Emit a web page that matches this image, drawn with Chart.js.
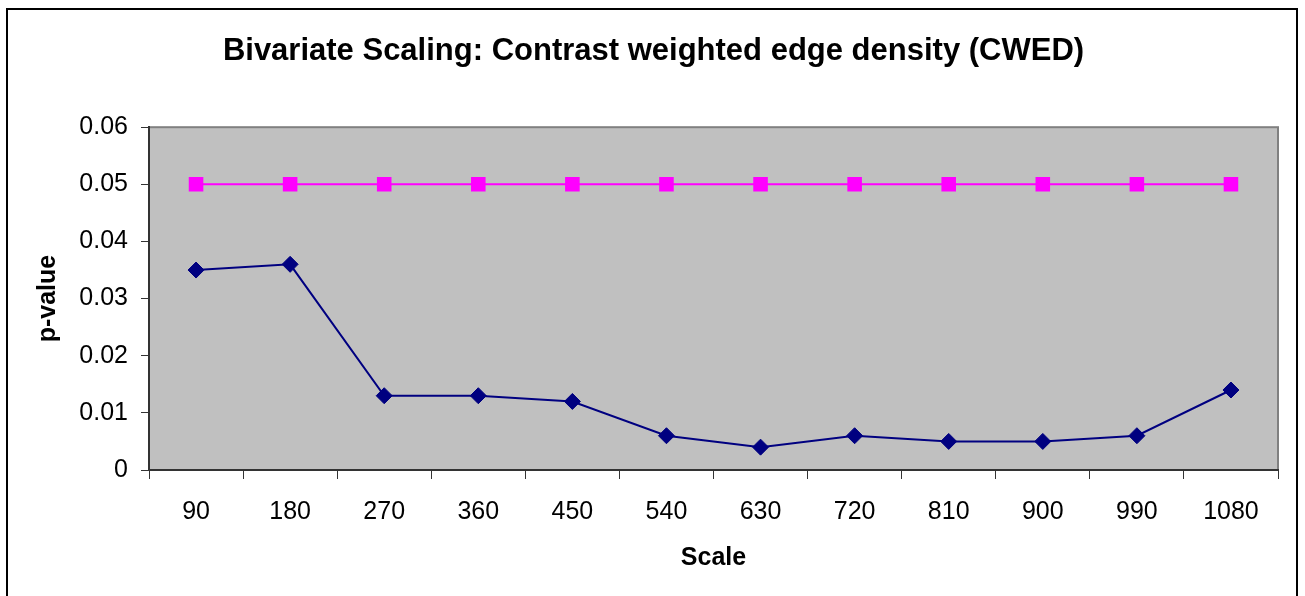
<!DOCTYPE html>
<html>
<head>
<meta charset="utf-8">
<script src="https://cdn.jsdelivr.net/npm/chart.js@4.4.1/dist/chart.umd.min.js"></script>
<style>
  html, body { margin: 0; padding: 0; background: #ffffff; }
  #wrap { width: 1305px; height: 596px; position: relative; }
</style>
</head>
<body>
<div id="wrap"><canvas id="chart" width="1305" height="596"></canvas></div>
<script>
// Scale values on the category axis
const scales = ['90', '180', '270', '360', '450', '540', '630', '720', '810', '900', '990', '1080'];
// p-values of the CWED bivariate test at each scale
const pValues = [0.035, 0.036, 0.013, 0.013, 0.012, 0.006, 0.004, 0.006, 0.005, 0.005, 0.006, 0.014];
// significance threshold
const threshold = [0.05, 0.05, 0.05, 0.05, 0.05, 0.05, 0.05, 0.05, 0.05, 0.05, 0.05, 0.05];
// y-axis tick labels
const yTicks = ['0', '0.01', '0.02', '0.03', '0.04', '0.05', '0.06'];

const FONT = '"Liberation Sans", Arial, sans-serif';

// grey plot background and frame, plus the outer chart border
const framePlugin = {
  id: 'frame',
  beforeDraw(chart) {
    const { ctx, chartArea: a } = chart;
    ctx.save();
    ctx.fillStyle = '#ffffff';
    ctx.fillRect(0, 0, chart.width, chart.height);
    ctx.fillStyle = '#c0c0c0';
    ctx.fillRect(a.left, a.top, a.right - a.left, a.bottom - a.top);
    ctx.strokeStyle = '#808080';
    ctx.lineWidth = 2;
    ctx.strokeRect(a.left, a.top, a.right - a.left, a.bottom - a.top);
    ctx.restore();
  },
  afterDraw(chart) {
    const { ctx } = chart;
    ctx.save();
    ctx.strokeStyle = '#000000';
    ctx.lineWidth = 2;
    ctx.strokeRect(7, 9, 1290, 620);
    ctx.restore();
  }
};

new Chart(document.getElementById('chart'), {
  type: 'line',
  data: {
    labels: scales,
    datasets: [
      {
        label: 'p-value',
        data: pValues,
        borderColor: '#000080',
        backgroundColor: '#000080',
        borderWidth: 2,
        pointStyle: 'rectRot',
        pointRadius: 8,
        pointBorderWidth: 1,
        tension: 0
      },
      {
        label: '0.05',
        data: threshold,
        borderColor: '#ff00ff',
        backgroundColor: '#ff00ff',
        borderWidth: 2,
        pointStyle: 'rect',
        pointRadius: 10.3,
        pointBorderWidth: 0,
        tension: 0
      }
    ]
  },
  options: {
    responsive: false,
    animation: false,
    events: [],
    layout: { padding: { top: 0, left: 29, right: 27, bottom: 19 } },
    plugins: {
      legend: { display: false },
      tooltip: { enabled: false },
      title: {
        display: true,
        text: 'Bivariate Scaling: Contrast weighted edge density (CWED)',
        color: '#000000',
        font: { family: FONT, size: 31, weight: 'bold' },
        padding: { top: 33, bottom: 57 }
      }
    },
    scales: {
      x: {
        type: 'category',
        offset: true,
        grid: {
          offset: true,
          drawOnChartArea: false,
          drawTicks: true,
          tickLength: 9,
          tickColor: '#333333',
          lineWidth: 1
        },
        border: { display: true, color: '#333333', width: 2 },
        ticks: {
          color: '#000000',
          font: { family: FONT, size: 25 },
          padding: 18,
          maxRotation: 0,
          autoSkip: false
        },
        title: {
          display: true,
          text: 'Scale',
          color: '#000000',
          font: { family: FONT, size: 25, weight: 'bold' },
          padding: { top: 4, bottom: 4 }
        },
        afterFit(scale) { scale.height = 107; }
      },
      y: {
        min: 0,
        max: 0.06,
        grid: {
          drawOnChartArea: false,
          drawTicks: true,
          tickLength: 8,
          tickColor: '#333333'
        },
        border: { display: true, color: '#333333', width: 2 },
        ticks: {
          stepSize: 0.01,
          color: '#000000',
          font: { family: FONT, size: 25 },
          padding: 13,
          callback: (v, i) => yTicks[i]
        },
        title: {
          display: true,
          text: 'p-value',
          color: '#000000',
          font: { family: FONT, size: 25, weight: 'bold' },
          padding: { top: 4, bottom: 4 }
        },
        afterFit(scale) { scale.width = 120; }
      }
    }
  },
  plugins: [framePlugin]
});
</script>
</body>
</html>
